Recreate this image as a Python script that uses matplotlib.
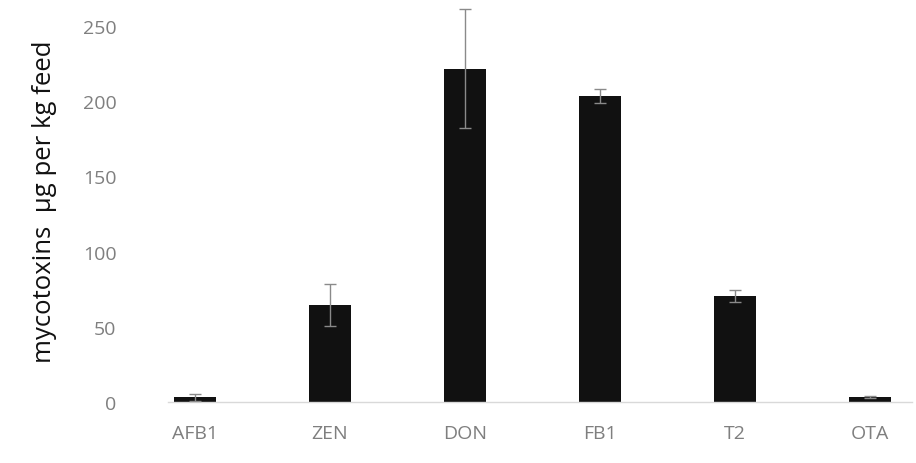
import matplotlib
matplotlib.use("Agg")
import matplotlib.pyplot as plt

categories = ["AFB1", "ZEN", "DON", "FB1", "T2", "OTA"]
values = [3.0, 64.5, 221.5, 203.5, 70.5, 3.3]
errors = [2.5, 14.0, 39.5, 4.5, 4.0, 0.6]
y_ticks = [0, 50, 100, 150, 200, 250]

plt.rcParams['font.family'] = ['Open Sans', 'DejaVu Sans']

fig = plt.figure(figsize=(9.16, 4.64), dpi=100)
W, H = 916, 464
left_px, right_px = 168, 912
bottom_px, top_px = 403, 4.4
ax = fig.add_axes([left_px / W, (H - bottom_px) / H, (right_px - left_px) / W, (bottom_px - top_px) / H])

x = list(range(len(categories)))
ax.bar(x, values, width=0.31, color="#111111", zorder=2)
ax.errorbar(x, values, yerr=errors, fmt="none", ecolor="#8a8a8a", elinewidth=1.0,
            capsize=4, capthick=1.0, zorder=3)

ax.set_xlim(-0.2, 5.311)
ax.set_ylim(0, 265)
ax.set_yticks(y_ticks)
ax.set_xticks(x)
ax.set_xticklabels(categories)

for s in ["top", "right", "left"]:
    ax.spines[s].set_visible(False)
ax.spines["bottom"].set_color("#d9d9d9")
ax.spines["bottom"].set_linewidth(1.0)

ax.tick_params(axis="y", length=0, pad=37, labelsize=14, labelcolor="#7f7f7f")
ax.tick_params(axis="x", length=0, pad=16, labelsize=14, labelcolor="#7f7f7f")

ax.set_ylabel("mycotoxins  µg per kg feed", fontsize=18.5, color="#111111")
ax.yaxis.set_label_coords(-0.149, 0.505)

fig.savefig("out.png", dpi=100, facecolor="white")
